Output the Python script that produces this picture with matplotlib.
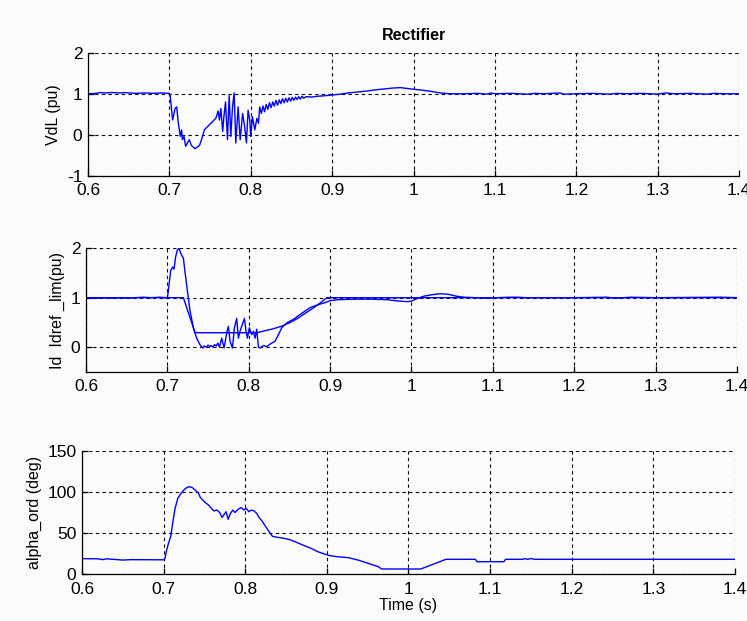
import matplotlib
matplotlib.use("Agg")
import matplotlib.pyplot as plt

# VdL (pu)
t_vdl = [0.600, 0.610, 0.615, 0.620, 0.630, 0.640, 0.645, 0.650, 0.660, 0.670, 0.680, 0.690, 0.700,
         0.701, 0.704, 0.707, 0.709, 0.711, 0.7135, 0.715, 0.716, 0.718, 0.720, 0.7245, 0.727,
         0.7315, 0.737, 0.7395, 0.743, 0.749, 0.753, 0.757, 0.760, 0.7615, 0.7633, 0.7655, 0.767,
         0.769, 0.7714, 0.7735, 0.7755, 0.7776, 0.7796, 0.7816, 0.7845, 0.787, 0.790, 0.7925,
         0.7947, 0.7967, 0.7988, 0.800, 0.802, 0.805, 0.8075, 0.8095, 0.811,
         0.813, 0.815, 0.817, 0.819, 0.821, 0.823, 0.825, 0.827, 0.829, 0.831, 0.833, 0.835,
         0.837, 0.839, 0.841, 0.843, 0.845, 0.847, 0.849, 0.851, 0.853, 0.855, 0.857, 0.859,
         0.861, 0.863, 0.865, 0.868,
         0.875, 0.882, 0.890, 0.900, 0.910, 0.920, 0.930, 0.944, 0.955, 0.965, 0.975, 0.984,
         0.992, 1.000, 1.010, 1.021, 1.033, 1.045, 1.062,
         1.080, 1.090, 1.095, 1.100, 1.120, 1.140, 1.150, 1.160, 1.180, 1.185, 1.200, 1.220,
         1.240, 1.250, 1.260, 1.280, 1.300, 1.310, 1.320, 1.340, 1.360, 1.370, 1.380, 1.400]
vdl = [1.00, 1.01, 1.03, 1.02, 1.03, 1.02, 1.03, 1.02, 1.01, 1.02, 1.01, 1.02, 1.01,
       0.95, 0.36, 0.64, 0.68, 0.28, -0.04, 0.12, -0.12, -0.04, -0.28, -0.12, -0.26,
       -0.34, -0.26, -0.12, 0.12, 0.24, 0.32, 0.40, 0.58, 0.36, 0.64, 0.08, 0.44,
       0.80, -0.12, 0.96, -0.04, 0.68, 1.02, -0.20, 0.68, -0.12, 0.52, 0.20,
       -0.20, 0.60, 0.36, -0.04, 0.44, 0.12, 0.40, 0.28, 0.68,
       0.52, 0.70, 0.56, 0.74, 0.62, 0.78, 0.66, 0.80, 0.70, 0.84, 0.72, 0.85,
       0.76, 0.88, 0.78, 0.89, 0.80, 0.90, 0.82, 0.91, 0.84, 0.92, 0.86, 0.93,
       0.87, 0.94, 0.89, 0.93,
       0.92, 0.94, 0.95, 0.97, 0.99, 1.02, 1.04, 1.07, 1.10, 1.12, 1.14, 1.15,
       1.13, 1.11, 1.09, 1.06, 1.02, 1.00, 1.00,
       1.01, 0.99, 1.02, 1.00, 1.01, 0.99, 1.01, 1.00, 1.02, 0.99, 1.00, 1.01,
       0.99, 1.01, 1.00, 1.01, 0.99, 1.02, 1.00, 1.01, 0.99, 1.01, 1.00, 1.00]

# Id (pu), measured
t_id = [0.600, 0.615, 0.620, 0.630, 0.645, 0.650, 0.670, 0.680, 0.690, 0.700,
        0.7012, 0.7041, 0.7066, 0.7082, 0.7102, 0.7123, 0.7143, 0.7164, 0.7197, 0.7217,
        0.7246, 0.7279, 0.732, 0.736, 0.740, 0.7434,
        0.745, 0.748, 0.750, 0.752, 0.754, 0.756, 0.758, 0.760, 0.762, 0.764,
        0.7668, 0.7697, 0.773, 0.775, 0.777, 0.780, 0.7824, 0.7852, 0.7873, 0.7893,
        0.7922, 0.7947, 0.7967, 0.7984, 0.8008, 0.8037, 0.8057, 0.8078, 0.8098, 0.8119,
        0.8139, 0.818, 0.8221, 0.8254, 0.8283, 0.8324, 0.8365, 0.8406, 0.8467, 0.8549,
        0.8631, 0.8754, 0.8877, 0.8939, 0.900,
        0.910, 0.930, 0.950, 0.970, 0.985, 0.995, 1.000, 1.005, 1.015, 1.025, 1.035,
        1.045, 1.055, 1.065, 1.080, 1.090, 1.120, 1.130, 1.140, 1.200, 1.240, 1.250,
        1.270, 1.300, 1.380, 1.400]
id_meas = [1.00, 0.99, 1.00, 0.99, 1.00, 0.99, 1.01, 1.00, 1.01, 1.00,
           1.14, 1.55, 1.62, 1.58, 1.83, 1.97, 2.00, 1.90, 1.80, 1.52,
           1.14, 0.73, 0.39, 0.18, 0.05, -0.02,
           0.02, 0.00, 0.04, 0.01, 0.03, 0.00, 0.05, 0.02, 0.08, 0.00,
           0.18, -0.02, 0.29, 0.42, 0.12, -0.02, 0.39, 0.58, 0.18, 0.32,
           0.46, 0.58, 0.32, 0.18, 0.39, 0.25, 0.32, 0.18, 0.36, 0.00,
           -0.02, 0.03, 0.01, 0.05, 0.08, 0.12, 0.25, 0.39, 0.49, 0.56,
           0.66, 0.80, 0.87, 0.90, 0.94,
           0.96, 0.97, 0.97, 0.96, 0.93, 0.92, 0.93, 0.97, 1.03, 1.06, 1.08,
           1.07, 1.03, 1.01, 1.00, 0.99, 1.01, 1.01, 1.00, 1.00, 1.01, 0.99,
           1.01, 1.00, 1.01, 1.00]

# Idref_lim (pu)
t_idref = [0.600, 0.7197, 0.734, 0.810, 0.820, 0.830, 0.840, 0.850, 0.860, 0.870, 0.880,
           0.890, 0.896, 1.400]
idref = [1.00, 1.00, 0.29, 0.29, 0.33, 0.37, 0.42, 0.49, 0.58, 0.69, 0.80,
         0.92, 1.00, 1.00]

# alpha_ord (deg)
t_alpha = [0.600, 0.620, 0.625, 0.630, 0.650, 0.660, 0.700,
           0.7016, 0.7037, 0.7058, 0.7086, 0.7111, 0.714, 0.7173, 0.721, 0.7263, 0.7305,
           0.7346, 0.7387, 0.7428, 0.7449, 0.7498, 0.7551, 0.7613, 0.7654, 0.7687, 0.7716,
           0.7737, 0.7765, 0.779, 0.7819, 0.7848, 0.7872, 0.7914, 0.795, 0.7984, 0.8012,
           0.8045, 0.8074, 0.8107, 0.814, 0.8169, 0.821, 0.8251, 0.8292, 0.8333, 0.8395,
           0.8477, 0.856, 0.8642, 0.8724, 0.8807, 0.8889, 0.8971, 0.9033, 0.9136, 0.9259,
           0.9383, 0.9506, 0.963, 0.9671, 1.015, 1.046, 1.082, 1.084, 1.117, 1.119,
           1.140, 1.142, 1.146, 1.150, 1.155, 1.400]
alpha = [18.7, 18.5, 17.5, 18.5, 17.0, 17.5, 17.3,
         19.0, 29.0, 37.0, 45.5, 62.0, 80.0, 92.0, 98.0, 104.0, 106.5,
         105.7, 102.4, 98.4, 93.5, 88.2, 84.0, 77.0, 78.0, 75.0, 69.0,
         72.0, 76.0, 66.7, 74.0, 78.0, 75.0, 79.0, 81.0, 78.0, 80.0,
         76.0, 78.0, 77.0, 74.0, 69.0, 64.0, 57.7, 51.6, 46.0, 44.7,
         43.5, 41.5, 38.0, 34.6, 31.3, 27.2, 24.4, 22.4, 21.0, 20.0,
         17.0, 13.0, 9.0, 6.1, 6.1, 17.9, 17.9, 15.0, 15.0, 17.9,
         17.9, 18.8, 17.9, 18.8, 17.9, 17.9]

x_ticks = [0.6, 0.7, 0.8, 0.9, 1.0, 1.1, 1.2, 1.3, 1.4]
x_labels = ["0.6", "0.7", "0.8", "0.9", "1", "1.1", "1.2", "1.3", "1.4"]

plt.rcParams['font.family'] = ['Liberation Sans', 'DejaVu Sans']
plt.rcParams['axes.unicode_minus'] = False

fig = plt.figure(figsize=(7.47, 6.21), dpi=100, facecolor='#fbfbfb')

ax1 = fig.add_axes([0.1178, 0.717, 0.8715, 0.198])
ax2 = fig.add_axes([0.1151, 0.4014, 0.8715, 0.1987])
ax3 = fig.add_axes([0.1098, 0.0757, 0.874, 0.198])

ax1.plot(t_vdl, vdl, color='#0000ff', lw=1.0)
ax2.plot(t_idref, idref, color='#0000ff', lw=1.0)
ax2.plot(t_id, id_meas, color='#0000ff', lw=1.0)
ax3.plot(t_alpha, alpha, color='#0000ff', lw=1.0)

ax1.set_ylim(-1, 2)
ax1.set_yticks([-1, 0, 1, 2])
ax1.set_ylabel('VdL (pu)', fontsize=11.5)
ax1.set_title('Rectifier', fontsize=11.5, fontweight='bold', pad=9)

ax2.set_ylim(-0.5, 2)
ax2.set_yticks([0, 1, 2])
ax2.set_ylabel('Id  Idref _lim(pu)', fontsize=11.5)

ax3.set_ylim(0, 150)
ax3.set_yticks([0, 50, 100, 150])
ax3.set_ylabel('alpha_ord (deg)', fontsize=11.5)
ax3.set_xlabel('Time (s)', fontsize=11.5, labelpad=1)

for ax in (ax1, ax2, ax3):
    ax.set_facecolor('#fbfbfb')
    ax.set_xlim(0.6, 1.4)
    ax.set_xticks(x_ticks)
    ax.set_xticklabels(x_labels)
    ax.spines['top'].set_visible(False)
    ax.spines['right'].set_visible(False)
    ax.spines['left'].set_linewidth(0.9)
    ax.spines['bottom'].set_linewidth(0.9)
    ax.tick_params(direction='in', length=4, width=0.9, labelsize=12.5)
    ax.tick_params(axis='x', pad=5.5)
    ax.tick_params(axis='y', pad=4)
    ax.grid(True, color='black', linestyle=(0, (3, 3)), linewidth=0.8)
    ax.set_axisbelow(True)

fig.savefig('out.png', dpi=100, facecolor=fig.get_facecolor())
